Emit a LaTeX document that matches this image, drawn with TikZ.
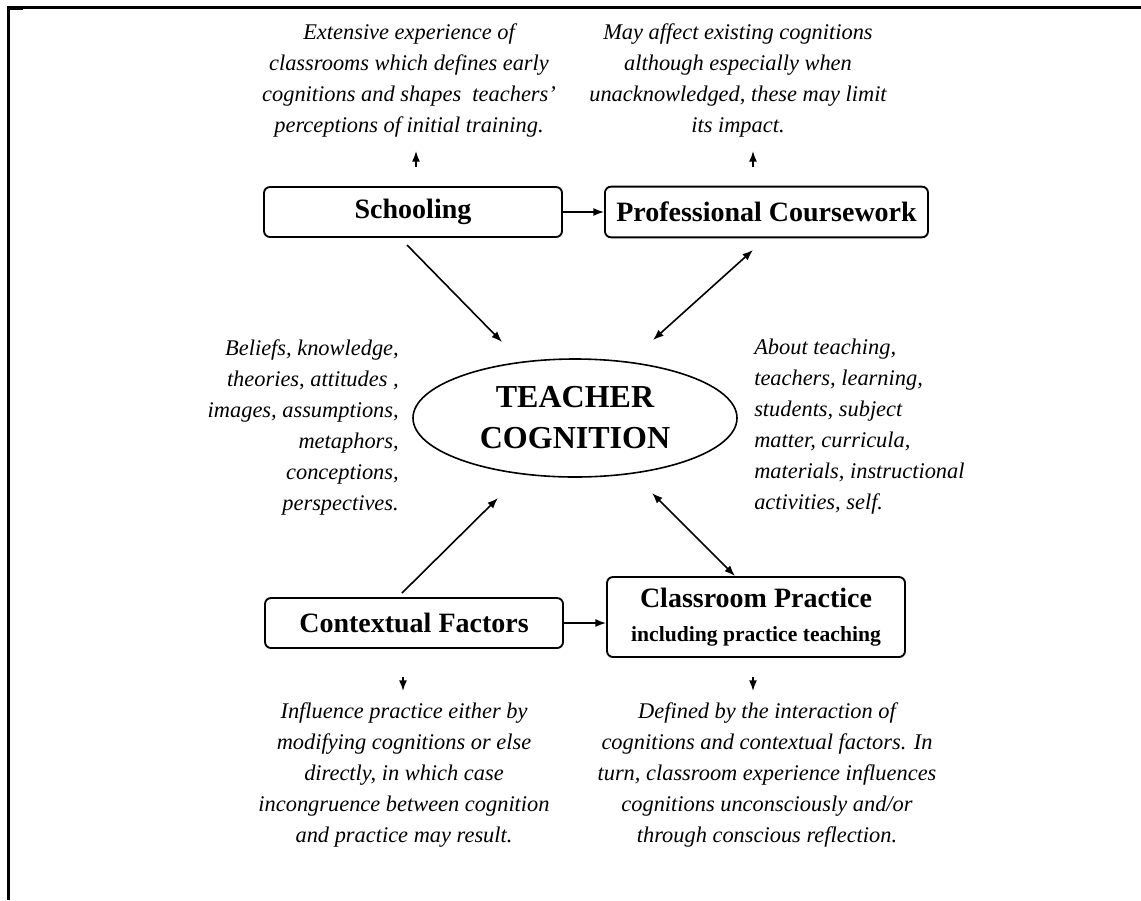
\documentclass[tikz,border=0pt]{standalone}
\usepackage{fontspec}
\setmainfont{Liberation Serif}
\usetikzlibrary{shapes.geometric,arrows.meta}
\begin{document}
\begin{tikzpicture}[x=0.75pt,y=-0.75pt,
  box/.style={draw,rounded corners=4.5pt,line width=1.4pt,inner sep=0pt,align=center,
    minimum width=223.5pt,minimum height=37.5pt,font=\fontsize{21}{25}\selectfont\bfseries},
  notetext/.style={inner sep=0pt,font=\fontsize{16.8}{23.25}\selectfont\itshape},
  arr/.style={line width=1.2pt,-{Latex[length=8pt,width=6pt]}},
  darr/.style={line width=1.2pt,{Latex[length=8pt,width=6pt]}-{Latex[length=8pt,width=6pt]}},
  frameline/.style={line width=1.8pt}]
\useasboundingbox (0,0) rectangle (1141,900);
% frame
\draw[frameline] (8.5,900) -- (8.5,7.5) -- (1141,7.5);
\draw[line width=2.2pt] (8,9) -- (23,9);

% boxes
\node[box] (sch) at (413,212) {Schooling};
\node[box,minimum width=242.25pt,minimum height=38pt] (prof) at (766.5,212) {Professional Coursework};
\node[box] (ctx) at (414,623) {Contextual Factors};
\node[box,minimum height=60pt] (cls) at (756,617)
  {Classroom Practice\\[0pt]{\fontsize{16.2}{20}\selectfont including practice teaching}};

% ellipse
\node[draw,ellipse,line width=1.2pt,inner sep=0pt,minimum width=243pt,minimum height=88.5pt,
  align=center,font=\fontsize{24}{30.75}\selectfont\bfseries] (tc) at (575,418) {TEACHER\\COGNITION};

% notes
\node[notetext,align=center] (ntl) at (409,80) {Extensive experience of\\classrooms which defines early\\cognitions and shapes\ \ teachers'\\perceptions of initial training.};
\node[notetext,align=center] (ntr) at (738,80) {May affect existing cognitions\\although especially when\\unacknowledged, these may limit\\its impact.};
\node[notetext,align=right,anchor=east] (nml) at (399,427) {Beliefs, knowledge,\\theories, attitudes ,\\images, assumptions,\\metaphors,\\conceptions,\\perspectives.};
\node[notetext,align=left,anchor=west] (nmr) at (754,427) {About teaching,\\teachers, learning,\\students, subject\\matter, curricula,\\materials, instructional\\activities, self.};
\node[notetext,align=center] (nbl) at (404,775) {Influence practice either by\\modifying cognitions or else\\directly, in which case\\incongruence between cognition\\and practice may result.};
\node[notetext,align=center] (nbr) at (767,775) {Defined by the interaction of\\cognitions and contextual factors. In\\turn, classroom experience influences\\cognitions unconsciously and/or\\through conscious reflection.};

% connector end points
\coordinate (u1a) at (416,167); \coordinate (u1b) at (416,151);
\coordinate (u2a) at (753,167); \coordinate (u2b) at (753,151);
\coordinate (d1a) at (403,677); \coordinate (d1b) at (403,691);
\coordinate (d2a) at (753,677); \coordinate (d2b) at (753,691);
\coordinate (s1) at (407,245); \coordinate (s2) at (502,342);
\coordinate (p1) at (753,250); \coordinate (p2) at (653,340);
\coordinate (c1) at (402,593); \coordinate (c2) at (498,498);
\coordinate (k1) at (735,576); \coordinate (k2) at (652,493);

% connectors
\draw[arr] (u1a) -- (u1b);
\draw[arr] (u2a) -- (u2b);
\draw[arr] (d1a) -- (d1b);
\draw[arr] (d2a) -- (d2b);
\draw[arr] (sch.east) -- (sch.east -| prof.west);
\draw[arr] (ctx.east) -- (ctx.east -| cls.west);
\draw[arr] (s1) -- (s2);
\draw[darr] (p1) -- (p2);
\draw[arr] (c1) -- (c2);
\draw[darr] (k1) -- (k2);
\end{tikzpicture}
\end{document}
